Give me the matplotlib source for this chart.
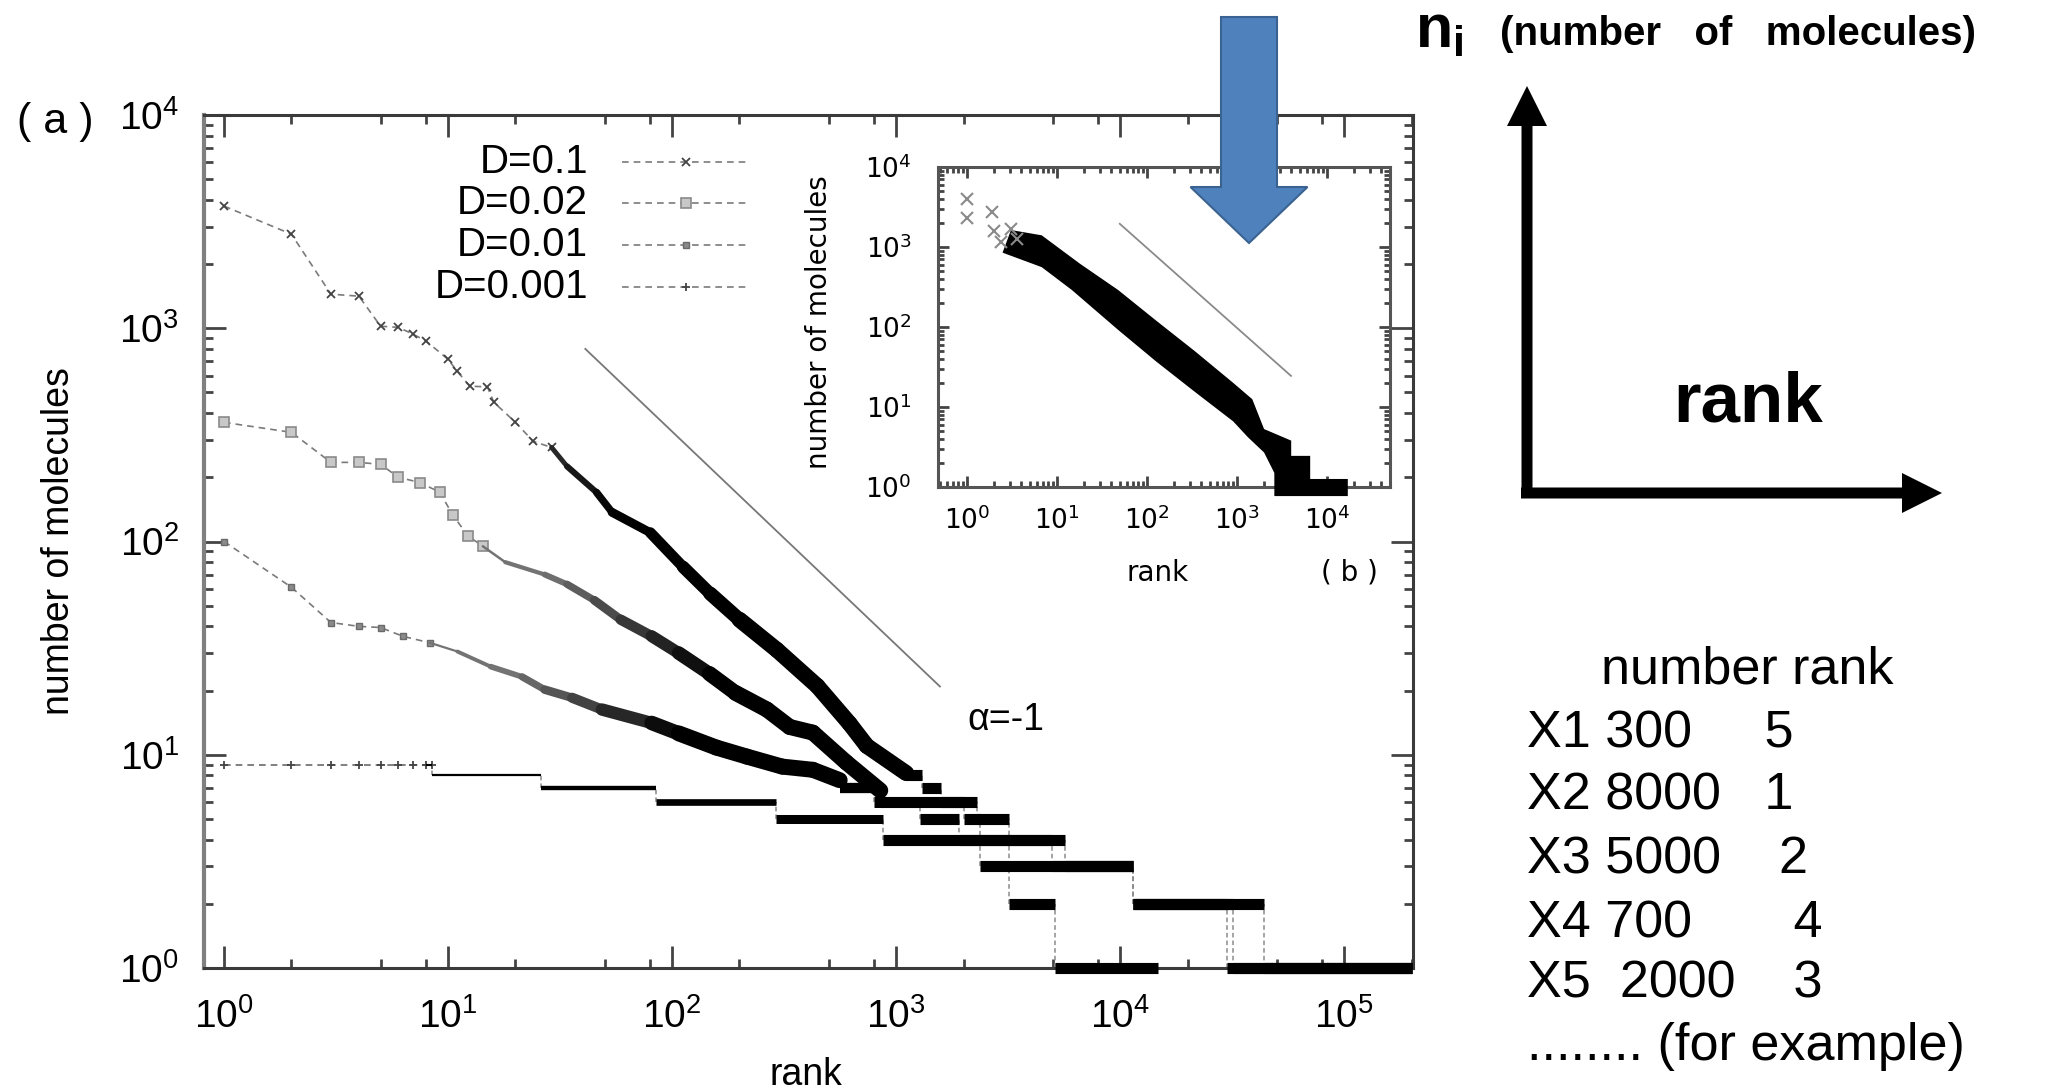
import numpy as np
import matplotlib.pyplot as plt
from matplotlib.collections import LineCollection
from matplotlib.lines import Line2D
from matplotlib.patches import FancyArrow
from matplotlib.ticker import LogLocator, NullFormatter

plt.rcParams['font.family'] = ['Liberation Sans', 'DejaVu Sans']
plt.rcParams['mathtext.fontset'] = 'custom'
plt.rcParams['mathtext.rm'] = 'Liberation Sans'
plt.rcParams['mathtext.bf'] = 'Liberation Sans:bold'

# ---- panel (a): rank vs number of molecules ----
# D=0.1 : sparse symbols first, then dense band
d01_rank = [1, 2, 3, 4, 5, 6, 7, 8, 10, 11, 12.5, 15, 16, 20, 24, 29, 34, 46,
            54, 80, 112, 148, 200, 294, 445, 620, 740, 1110]
d01_n = [3740, 2760, 1445, 1414, 1022, 1010, 937, 869, 715, 628, 535, 531, 450, 362,
         295, 276, 225, 170, 137, 110, 76, 57, 43, 31, 21, 14, 11, 8.2]
d01_step_rank = [1110, 1300, 1580, 2300, 3200, 5100, 14800]
d01_step_n = [8, 7, 6, 5, 2, 1]

# D=0.02
d002_rank = [1, 2, 3, 4, 5, 6, 7.5, 9.2, 10.5, 12.3, 14.3, 18, 27, 34, 45, 59, 81,
             107, 147, 192, 265, 335, 425, 600, 850]
d002_n = [362, 325, 235, 235, 230, 200, 189, 170, 133, 106, 95, 80, 70, 63, 53, 43,
          36, 30, 24, 19.5, 16.3, 13.5, 12.7, 9.2, 6.8]
d002_step_rank = [850, 2000, 2360, 11400, 30000, 200000]
d002_step_n = [6, 5, 3, 2, 1]

# D=0.01
d001_rank = [1, 2, 3, 4, 5, 6.3, 8.3, 11, 15.5, 21.4, 27, 35.8, 48.6, 81, 107, 158,
             216, 310, 425, 560]
d001_n = [100, 61, 41.7, 40, 39.5, 35.9, 33.5, 30.5, 25.9, 23.2, 20.2, 18.5, 16.3,
          14.1, 12.6, 10.8, 9.8, 8.8, 8.5, 7.6]
d001_step_rank = [560, 800, 1280, 1900, 4950, 11400, 32000, 200000]
d001_step_n = [7, 6, 5, 4, 3, 2, 1]

# D=0.001 (plateaus only)
d0001_head_rank = [1, 2, 3, 4, 5, 6, 7, 8]
d0001_head_n = [9, 9, 9, 9, 9, 9, 9, 9]
d0001_step_rank = [8.5, 26, 85, 290, 870, 5700, 11400, 44000, 200000]
d0001_step_n = [8, 7, 6, 5, 4, 3, 2, 1]

legend_labels = ['D=0.1', 'D=0.02', 'D=0.01', 'D=0.001']

# reference power law
alpha = -1
alpha_rank = [41, 1570]
alpha_n0 = 800

# ---- panel (b) inset: all species, one band ----
inset_upper_rank = [3.1, 6.8, 18, 48, 127, 340, 910, 1480, 2000, 4000, 4000, 6500, 6500, 17000]
inset_upper_n = [1630, 1400, 620, 290, 120, 50, 20, 12.5, 5.3, 3.8, 2.45, 2.45, 1.26, 1.26]
inset_lower_rank = [2.5, 6.8, 14.7, 48, 127, 340, 910, 1320, 2000, 2600, 2600, 17000]
inset_lower_n = [850, 560, 290, 92, 37, 15.5, 6.6, 4.2, 2.7, 1.5, 0.77, 0.77]
inset_mark_rank = [1, 1, 1.9, 2.0, 2.4, 3.1, 3.6]
inset_mark_n = [4000, 2300, 2700, 1600, 1150, 1700, 1250]
inset_alpha_rank = [50, 3980]
inset_alpha_n0 = 1950

# ---- side notes ----
table_header = 'number rank'
table_rows = ['X1 300     5', 'X2 8000   1', 'X3 5000    2', 'X4 700       4',
              'X5  2000    3', '........ (for example)']

W, H = 2064, 1091
fig = plt.figure(figsize=(W / 100, H / 100), dpi=100)


def fx(px):
    return px / W


def fy(py):
    return 1 - py / H


def style_axes(a, xsubs, major_len, minor_len, spine_color):
    a.xaxis.set_minor_locator(LogLocator(base=10, subs=xsubs, numticks=30))
    a.yaxis.set_minor_locator(LogLocator(base=10, subs=np.arange(2, 10), numticks=30))
    a.xaxis.set_minor_formatter(NullFormatter())
    a.yaxis.set_minor_formatter(NullFormatter())
    a.tick_params(which='both', direction='in', top=True, right=True,
                  color='#444444', labelcolor='black')
    a.tick_params(which='major', length=major_len, width=2)
    a.tick_params(which='minor', length=minor_len, width=2)
    for s in a.spines.values():
        s.set_color(spine_color)
        s.set_linewidth(2.2)


def draw_series(a, rank, n, n_marked, lw_start, gray_start, marker_kw):
    r = np.asarray(rank, float)
    v = np.asarray(n, float)
    # symbols joined by a thin dashed line
    a.plot(r[:n_marked], v[:n_marked], ls=(0, (4, 3)), lw=1.2, color='#7a7a7a',
           zorder=3, **marker_kw)
    # dense part: symbols overlap into a band that thickens and darkens
    pts = np.column_stack([r[n_marked - 1:], v[n_marked - 1:]])
    segs = np.stack([pts[:-1], pts[1:]], axis=1)
    mid = np.log10(np.sqrt(pts[:-1, 0] * pts[1:, 0]))
    lw = np.clip(1.3 + 9.0 * (mid - lw_start), 1.3, 11.5)
    g = np.clip(0.45 - 0.6 * (mid - gray_start), 0.0, 0.45)
    lc = LineCollection(segs, linewidths=lw, colors=[(x, x, x) for x in g],
                        capstyle='round', joinstyle='round', zorder=3)
    a.add_collection(lc)


def draw_steps(a, edges, levels):
    e = np.asarray(edges, float)
    lv = np.asarray(levels, float)
    lw = np.clip(1.5 + 3.2 * (np.log10(e[:-1]) - 0.9), 1.5, 8)
    a.vlines(e[1:-1], lv[1:], lv[:-1], colors='#8c8c8c', linewidths=1.1,
             linestyles=(0, (3, 2)), zorder=2, clip_on=False)
    a.hlines(lv, e[:-1], e[1:], colors='black', linewidths=lw, zorder=4,
             clip_on=False)


# main axes
ax = fig.add_axes([fx(204), fy(968), (1413 - 204) / W, (968 - 115) / H])
ax.set_xscale('log')
ax.set_yscale('log')
style_axes(ax, (2, 5, 8), 16, 6.5, '#3a3a3a')
ax.spines['left'].set_color('#808080')
ax.spines['left'].set_linewidth(3)

marks = {
    'D=0.1': dict(marker='x', ms=6, mew=1.3, mec='#444444'),
    'D=0.02': dict(marker='s', ms=7, mew=1.2, mfc='#c8c8c8', mec='#8a8a8a'),
    'D=0.01': dict(marker='s', ms=5, mew=1.0, mfc='#8a8a8a', mec='#6a6a6a'),
    'D=0.001': dict(marker='+', ms=6, mew=1.3, mec='#444444'),
}

draw_series(ax, d01_rank, d01_n, 16, 1.25, 1.0, marks['D=0.1'])
draw_steps(ax, d01_step_rank, d01_step_n)
draw_series(ax, d002_rank, d002_n, 11, 1.15, 1.45, marks['D=0.02'])
draw_steps(ax, d002_step_rank, d002_step_n)
draw_series(ax, d001_rank, d001_n, 7, 0.95, 1.3, marks['D=0.01'])
draw_steps(ax, d001_step_rank, d001_step_n)
ax.plot(d0001_head_rank + [d0001_step_rank[0]], d0001_head_n + [d0001_head_n[-1]],
        ls=(0, (4, 3)), lw=1.2, color='#6a6a6a', zorder=3, **marks['D=0.001'])
draw_steps(ax, [d0001_head_rank[-1]] + d0001_step_rank,
           [d0001_head_n[-1]] + d0001_step_n)

ar = np.asarray(alpha_rank, float)
ax.plot(ar, alpha_n0 * (ar / ar[0]) ** alpha, color='#777777', lw=1.3, zorder=2)
ax.text(3100, 14.6, 'α=-1', fontsize=27, ha='center', va='center')

ax.set_xlim(0.814, 2.03e5)
ax.set_ylim(1, 1e4)
ax.set_xticks([10.0 ** k for k in range(6)],
              labels=[r'$\mathdefault{10^{%d}}$' % k for k in range(6)])
ax.set_yticks([10.0 ** k for k in range(5)],
              labels=[r'$\mathdefault{10^{%d}}$' % k for k in range(5)])
ax.tick_params(axis='both', which='major', labelsize=28)
ax.tick_params(axis='x', pad=22)
ax.tick_params(axis='y', pad=18)
ax.set_xlabel('rank', fontsize=27)
ax.set_ylabel('number of molecules', fontsize=27)
ax.xaxis.set_label_coords(0.498, -0.125)
ax.xaxis.label.set_va('center')
ax.yaxis.set_label_coords(-0.12, 0.5)
ax.yaxis.label.set_va('center')

# legend: text right-aligned, sample line after it
legend_rows = [162, 203, 245, 287]
for lab, row in zip(legend_labels, legend_rows):
    fig.text(fx(588), fy(row), lab, fontsize=29, ha='right', va='center')
    fig.add_artist(Line2D([fx(622), fx(750)], [fy(row), fy(row)], ls=(0, (4, 3)),
                          lw=1.2, color='#7a7a7a', transform=fig.transFigure))
    fig.add_artist(Line2D([fx(686)], [fy(row)], lw=0, transform=fig.transFigure,
                          **marks[lab]))

fig.text(fx(55), fy(122), '( a )', fontsize=31, ha='center', va='center')

# inset (b)
ax2 = fig.add_axes([fx(938), fy(487), (1390 - 938) / W, (487 - 167) / H])
ax2.set_zorder(3)
ax2.set_xscale('log')
ax2.set_yscale('log')
style_axes(ax2, np.arange(2, 10), 8, 4, '#555555')
ax2.fill(np.r_[inset_upper_rank, inset_lower_rank[::-1]],
         np.r_[inset_upper_n, inset_lower_n[::-1]],
         color='black', lw=0, clip_on=False, zorder=3)
ax2.plot(inset_mark_rank, inset_mark_n, ls='none', marker='x', ms=8, mew=1.5,
         mec='#8a8a8a', zorder=4)
iar = np.asarray(inset_alpha_rank, float)
ax2.plot(iar, inset_alpha_n0 * (iar / iar[0]) ** alpha, color='#8a8a8a', lw=1.3)
ax2.set_xlim(0.48, 5e4)
ax2.set_ylim(1, 1e4)
ax2.set_xticks([10.0 ** k for k in range(5)],
               labels=[r'$\mathdefault{10^{%d}}$' % k for k in range(5)],
               fontfamily='DejaVu Sans', fontsize=19)
ax2.set_yticks([10.0 ** k for k in range(5)],
               labels=[r'$\mathdefault{10^{%d}}$' % k for k in range(5)],
               fontfamily='DejaVu Sans', fontsize=19)
ax2.tick_params(axis='x', pad=14)
ax2.tick_params(axis='y', pad=19)
fig.text(fx(819), fy(322), 'number of molecules', fontsize=20, family='DejaVu Sans',
         rotation=90, ha='center', va='center')
fig.text(fx(1158), fy(573), 'rank', fontsize=20, family='DejaVu Sans',
         ha='center', va='center')
fig.text(fx(1349), fy(573), '( b )', fontsize=20, family='DejaVu Sans',
         ha='center', va='center')

# blue pointer over the inset
fig.patches.append(FancyArrow(fx(1249), fy(17), 0, -(243 - 17) / H, width=56 / W,
                              head_width=117 / W, head_length=56 / H,
                              length_includes_head=True, transform=fig.transFigure,
                              fc='#4f81bd', ec='#3b6391', lw=1.5, zorder=6))

# sketch of the axes on the right
fig.patches.append(FancyArrow(fx(1527), fy(498), 0, (498 - 86) / H, width=11 / W,
                              head_width=40 / W, head_length=40 / H,
                              length_includes_head=True, transform=fig.transFigure,
                              color='black', lw=0))
fig.patches.append(FancyArrow(fx(1521), fy(493), (1942 - 1521) / W, 0, width=11 / H,
                              head_width=40 / H, head_length=40 / W,
                              length_includes_head=True, transform=fig.transFigure,
                              color='black', lw=0))
fig.text(fx(1415), fy(47), r'$\mathbf{n}_{\mathbf{i}}$', fontsize=44, va='baseline')
fig.text(fx(1500), fy(45), '(number   of   molecules)', fontsize=29,
         fontweight='bold', va='baseline')
fig.text(fx(1748), fy(421), 'rank', fontsize=51, fontweight='bold',
         ha='center', va='baseline')

fig.text(fx(1601), fy(683), table_header, fontsize=37.5, va='baseline')
table_base = [747, 810, 873, 937, 997, 1060]
for row, yb in zip(table_rows, table_base):
    fig.text(fx(1527), fy(yb), row, fontsize=37.5, va='baseline')

fig.savefig('out.png', dpi=100)
